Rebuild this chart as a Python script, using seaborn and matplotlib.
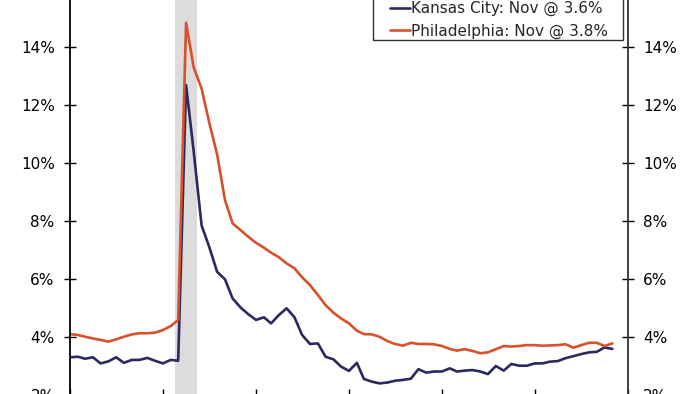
import numpy as np
import pandas as pd
import matplotlib
matplotlib.use('Agg')
import matplotlib.pyplot as plt
from matplotlib.patches import Rectangle
import seaborn as sns

sns.set_style('white')
plt.rcParams['font.family'] = ['DejaVu Sans']

# monthly unemployment rate, Jan 2019 - Nov 2024
months = pd.date_range('2019-01-01', '2024-11-01', freq='MS')

kansas_city = [
    3.30, 3.32, 3.25, 3.30, 3.09, 3.16, 3.30, 3.11, 3.21, 3.21, 3.28, 3.18,
    3.09, 3.21, 3.18, 12.69, 10.40, 7.85, 7.11, 6.25, 5.99, 5.33, 5.02, 4.79,
    4.59, 4.68, 4.47, 4.76, 4.99, 4.68, 4.07, 3.76, 3.78, 3.32, 3.23, 2.98,
    2.83, 3.11, 2.55, 2.46, 2.40, 2.43, 2.49, 2.52, 2.56, 2.89, 2.77, 2.81,
    2.81, 2.92, 2.81, 2.84, 2.86, 2.81, 2.72, 3.00, 2.84, 3.07, 3.01, 3.01,
    3.09, 3.09, 3.15, 3.17, 3.27, 3.34, 3.41, 3.47, 3.49, 3.64, 3.59,
]
philadelphia = [
    4.10, 4.07, 4.01, 3.95, 3.90, 3.84, 3.92, 4.01, 4.09, 4.13, 4.13, 4.15,
    4.24, 4.38, 4.59, 14.84, 13.30, 12.57, 11.40, 10.30, 8.72, 7.92, 7.69, 7.46,
    7.25, 7.08, 6.91, 6.75, 6.54, 6.37, 6.06, 5.79, 5.45, 5.10, 4.84, 4.64,
    4.47, 4.22, 4.10, 4.09, 4.01, 3.86, 3.76, 3.70, 3.80, 3.76, 3.76, 3.75,
    3.69, 3.59, 3.53, 3.58, 3.52, 3.44, 3.47, 3.58, 3.69, 3.67, 3.69, 3.72,
    3.72, 3.70, 3.71, 3.72, 3.75, 3.63, 3.72, 3.80, 3.80, 3.69, 3.78,
]
labels = ['Kansas City: Nov @ 3.6%', 'Philadelphia: Nov @ 3.8%']
colors = ['#2B2A60', '#D9512C']
recession = (pd.Timestamp('2020-02-18'), pd.Timestamp('2020-05-15'))
year_ticks = pd.date_range('2019-01-01', '2025-01-01', freq='YS')
y_ticks = [2, 4, 6, 8, 10, 12, 14]

df = pd.DataFrame({'date': list(months) * 2,
                   'rate': kansas_city + philadelphia,
                   'series': [labels[0]] * len(months) + [labels[1]] * len(months)})

W, H = 700, 394
fig = plt.figure(figsize=(W / 100, H / 100), dpi=100)
# the reference is a crop of a larger chart: axes run slightly past the figure edges
ax = fig.add_axes([0.1, -0.0025, 0.797, 1.03])

ax.axvspan(recession[0], recession[1], color='#DCDCDC', lw=0, zorder=0)
sns.lineplot(data=df, x='date', y='rate', hue='series', palette=colors,
             linewidth=1.9, ax=ax)

ax.set_xlim(year_ticks[0], year_ticks[-1])
ax.set_ylim(2, 16)
ax.set_xticks(year_ticks)
ax.set_yticks(y_ticks)
ax.set_yticklabels([f'{t}%' for t in y_ticks])
ax.set_xlabel('')
ax.set_ylabel('')

ax.spines['top'].set_visible(False)
ax.spines['left'].set_color('black')
ax.spines['right'].set_color('#333333')
ax.spines['bottom'].set_color('black')
for s in ['left', 'right', 'bottom']:
    ax.spines[s].set_linewidth(1.3)

ax.tick_params(axis='y', which='both', direction='inout', length=8, width=1,
               left=True, right=True, labelleft=True, labelright=True,
               labelsize=11, pad=7, colors='black')
ax.tick_params(axis='x', direction='inout', length=8, width=1, bottom=True,
               labelbottom=False, colors='black')

# legend (top of its box is cut off in the reference crop)
leg = ax.legend(loc='upper left', bbox_to_anchor=(390 / W, 1 - 1 / H),
                bbox_transform=fig.transFigure, frameon=False,
                fontsize=11, handlelength=1.3, handletextpad=0.1,
                labelspacing=0.5, borderpad=0, borderaxespad=0)
fig.add_artist(Rectangle((373 / W, 1 - 40 / H), 250 / W, 50 / H,
                         transform=fig.transFigure, fill=False,
                         edgecolor='#333333', lw=1.0))

fig.savefig('out.png', dpi=100)
